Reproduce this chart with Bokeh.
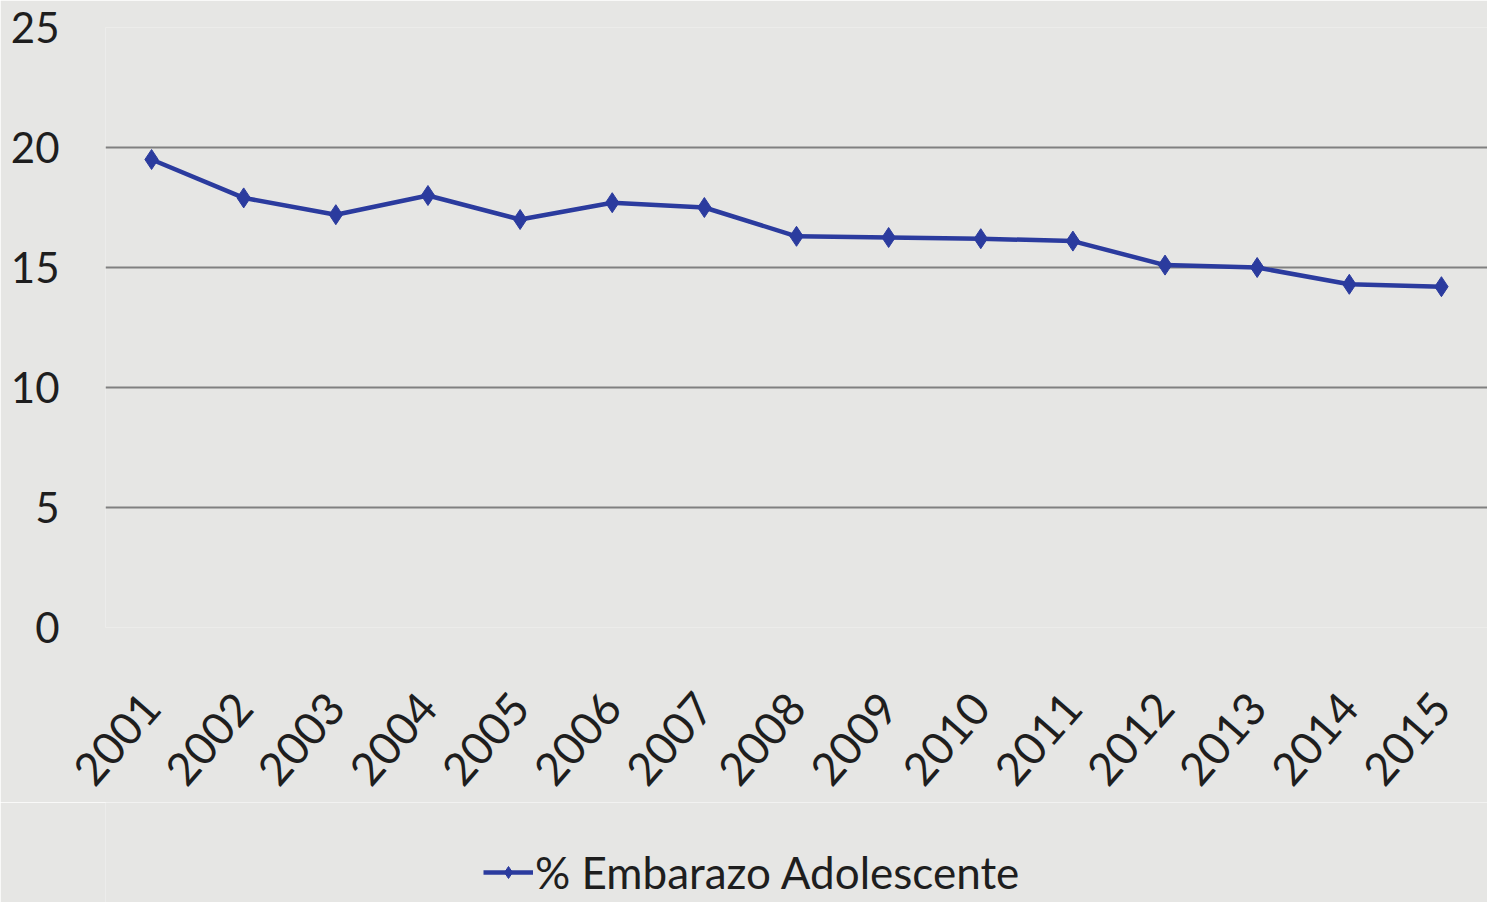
import math
from bokeh.plotting import figure
from bokeh.layouts import column
from bokeh.models import Range1d, FixedTicker, Legend, LegendItem
from bokeh.embed import file_html
from bokeh.resources import INLINE

years = ["2001", "2002", "2003", "2004", "2005", "2006", "2007", "2008",
         "2009", "2010", "2011", "2012", "2013", "2014", "2015"]
embarazo = [19.5, 17.9, 17.2, 18.0, 17.0, 17.7, 17.5, 16.3,
            16.25, 16.2, 16.1, 15.1, 15.0, 14.3, 14.2]
y_ticks = [0, 5, 10, 15, 20, 25]
series_name = "% Embarazo Adolescente"

FONT = "Lato"
BG = "#e6e6e4"
BLUE = "#2b3b9e"

p = figure(x_range=years, y_range=Range1d(0, 25),
           frame_width=1382, frame_height=600,
           output_backend="svg", toolbar_location=None,
           min_border_left=105, min_border_right=0, min_border_top=27,
           min_border_bottom=0)
p.background_fill_color = BG
p.border_fill_color = BG
p.outline_line_color = None

p.yaxis.ticker = FixedTicker(ticks=y_ticks)
p.yaxis.axis_line_color = None
p.yaxis.major_tick_line_color = None
p.yaxis.minor_tick_line_color = None
p.yaxis.major_label_text_font = FONT
p.yaxis.major_label_text_font_size = "42px"
p.yaxis.major_label_text_color = "#1e1e1e"
p.yaxis.major_label_standoff = 40

p.xaxis.axis_line_color = None
p.xaxis.major_tick_line_color = None
p.xaxis.major_label_orientation = 0.85
p.xaxis.major_label_text_font = FONT
p.xaxis.major_label_text_font_size = "45px"
p.xaxis.major_label_text_color = "#1e1e1e"
p.xaxis.major_label_standoff = 66

p.xgrid.grid_line_color = None
p.ygrid.grid_line_color = "#808080"
p.ygrid.grid_line_width = 2

p.line(years, embarazo, line_color=BLUE, line_width=4.5)
p.scatter(years, embarazo, marker="diamond", size=20,
          fill_color=BLUE, line_color=BLUE)

# legend strip below the chart (same series, drawn outside its visible range)
lg = figure(x_range=years, y_range=Range1d(100, 101), width=1487, height=100,
            output_backend="svg", toolbar_location=None,
            x_axis_location=None, y_axis_location=None,
            min_border=0)
lg.background_fill_color = BG
lg.border_fill_color = BG
lg.outline_line_color = None
lg.grid.grid_line_color = None
l_line = lg.line(years, embarazo, line_color=BLUE, line_width=4.5)
l_pts = lg.scatter(years, embarazo, marker="diamond", size=20,
                   fill_color=BLUE, line_color=BLUE)
legend = Legend(items=[LegendItem(label=series_name, renderers=[l_line, l_pts])],
                location=(378, 4), orientation="horizontal",
                label_text_font=FONT, label_text_font_size="44px",
                label_text_color="#1e1e1e",
                background_fill_alpha=0, border_line_color=None,
                glyph_width=50, glyph_height=30, label_standoff=2,
                padding=0, margin=0)
lg.add_layout(legend, "center")

layout = column(p, lg, spacing=0)
open("out.html", "w").write(file_html(layout, INLINE))
